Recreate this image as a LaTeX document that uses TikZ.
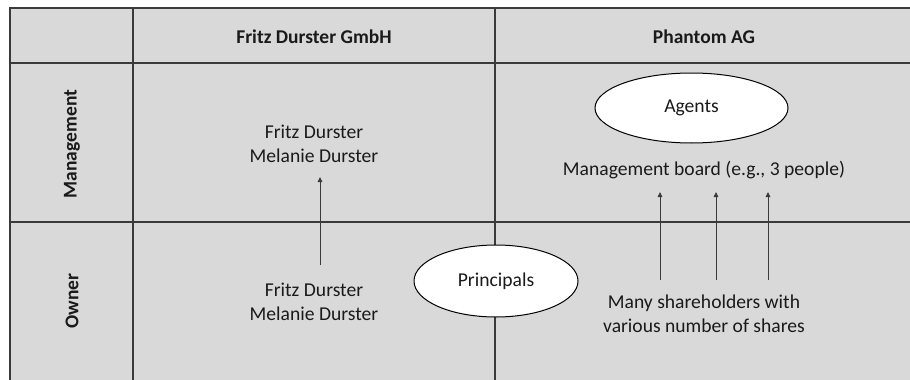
\documentclass[tikz,border=0pt]{standalone}
\usepackage{fontspec}
\setmainfont{Carlito}
\usetikzlibrary{shapes.geometric,arrows.meta}
\definecolor{cellgrey}{HTML}{D9D9D9}
\definecolor{rulegrey}{HTML}{3A3A3A}
\definecolor{inkgrey}{HTML}{1A1A1A}
\tikzset{
  grid/.style={draw=rulegrey,line width=1.8pt},
  head/.style={font=\fontsize{19.5}{22}\selectfont\bfseries,text=inkgrey,inner sep=0pt},
  body/.style={font=\fontsize{19.6}{24}\selectfont,text=inkgrey,align=center,inner sep=0pt},
  role/.style={ellipse,draw=black,line width=1pt,fill=white,inner sep=0pt,
               font=\fontsize{19.6}{24}\selectfont,text=inkgrey},
  arr/.style={draw=rulegrey,line width=0.9pt,-{Triangle[length=5pt,width=4.5pt]}}
}
\begin{document}
\begin{tikzpicture}[x=1pt,y=-1pt]
\useasboundingbox (0,0) rectangle (910,380);
% table background and rules
\fill[cellgrey] (10,8) rectangle (910,380);
\draw[grid] (10,380) -- (10,8) -- (910,8);
\draw[grid] (10,63) -- (910,63);
\draw[grid] (10,222) -- (910,222);
\draw[grid] (133,8) -- (133,380);
\draw[grid] (495,8) -- (495,380);
% headers
\node[head,anchor=base] (hfd) at (314,43) {Fritz Durster GmbH};
\node[head,anchor=base] (hph) at (704,43) {Phantom AG};
\node[head,rotate=90] (hman) at (72,144) {Management};
\node[head,rotate=90] (hown) at (72,301) {Owner};
% Fritz Durster GmbH
\node[body,anchor=base] (fdman) at (314,162.5) {Fritz Durster\\Melanie Durster};
\node[body,anchor=base] (fdown) at (314,320) {Fritz Durster\\Melanie Durster};
\coordinate (fa1) at (320,265);
\coordinate (fa2) at (320,177);
\draw[arr] (fa1) -- (fa2);
% Phantom AG
\node[role,minimum width=193pt,minimum height=70pt] (agents) at (691.5,108) {Agents};
\node[body,anchor=base] (board) at (704,175) {Management board (e.g., 3 people)};
\node[body,anchor=base] (share) at (704,332.5) {Many shareholders with\\various number of shares};
\foreach \i/\x in {1/660,2/716,3/768}{
  \coordinate (s\i) at (\x,280);
  \coordinate (b\i) at (\x,192);
  \draw[arr] (s\i) -- (b\i);
}
% principals
\node[role,minimum width=164pt,minimum height=72pt] (princ) at (496,281) {Principals};
\end{tikzpicture}
\end{document}
